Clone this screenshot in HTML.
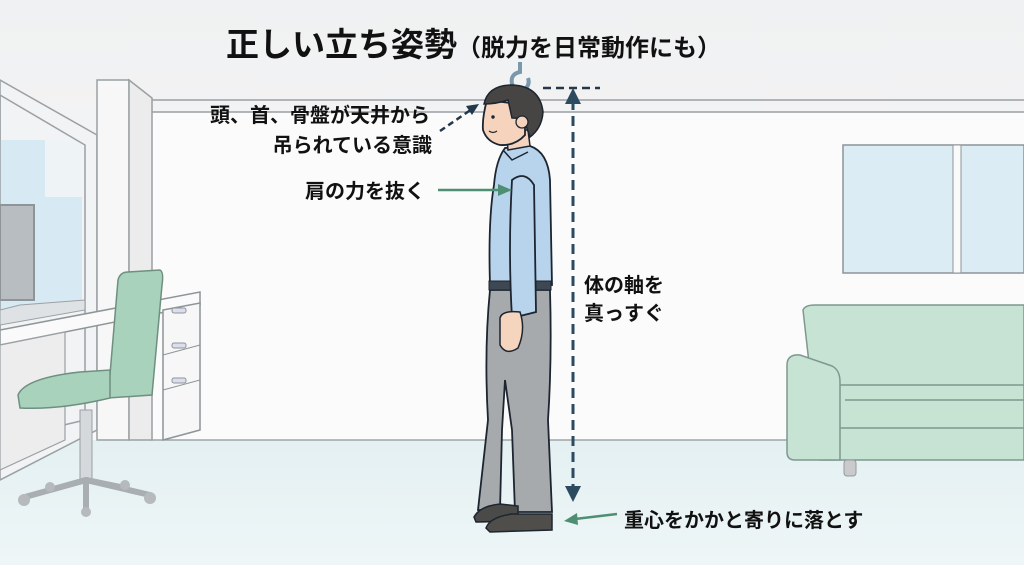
<!DOCTYPE html>
<html><head><meta charset="utf-8"><style>
html,body{margin:0;padding:0;background:#f4f5f6}
svg{display:block}
text{font-family:"Liberation Sans","Noto Sans CJK JP",sans-serif;fill:#111;font-weight:bold}
</style></head><body>
<svg width="1024" height="565" viewBox="0 0 1024 565" xmlns="http://www.w3.org/2000/svg">
<defs>
<linearGradient id="bg" x1="0" y1="0" x2="0" y2="1"><stop offset="0" stop-color="#f0f1f2"/><stop offset="1" stop-color="#fafafa"/></linearGradient>
<linearGradient id="fl" x1="0" y1="0" x2="0" y2="1"><stop offset="0" stop-color="#e4f0f2"/><stop offset="1" stop-color="#eef6f7"/></linearGradient>
</defs>
<rect width="1024" height="565" fill="url(#bg)"/>
<rect x="150" y="112" width="874" height="328" fill="#fbfbfb"/>
<line x1="150" y1="100" x2="1024" y2="100" stroke="#9aa0a3" stroke-width="1.5"/>
<line x1="150" y1="112" x2="1024" y2="112" stroke="#9aa0a3" stroke-width="1.5"/>
<rect x="0" y="440" width="1024" height="125" fill="url(#fl)"/>
<line x1="150" y1="440" x2="1024" y2="440" stroke="#8d9598" stroke-width="1.2"/>
<polygon points="0,80 97,135 97,430 0,480" fill="#f2f3f4" stroke="#9aa0a3" stroke-width="1.5"/>
<polygon points="0,140 82,140 82,300 0,320" fill="#d7e9f2"/>
<rect x="45" y="140" width="37" height="57" fill="#eef3f5"/>
<polygon points="0,95 85,145 85,420 0,440" fill="none" stroke="#9aa0a3" stroke-width="1.5"/>
<rect x="97" y="80" width="32" height="360" fill="#f7f7f7" stroke="#9aa0a3" stroke-width="1.5"/>
<polygon points="129,80 152,98 152,440 129,440" fill="#ececec" stroke="#9aa0a3" stroke-width="1.5"/>
<rect x="0" y="205" width="34" height="95" fill="#b7bdc1" stroke="#8d9598" stroke-width="2"/>
<polygon points="0,330 200,292 200,305 0,345" fill="#fafafa" stroke="#8d9598" stroke-width="1.5"/>
<polygon points="0,310 20,305 85,300 85,310 0,325" fill="#dfe2e4" stroke="#9aa0a3"/>
<polygon points="0,345 65,332 65,440 0,470" fill="#ededed" stroke="#9aa0a3" stroke-width="1.2"/>
<polygon points="163,310 200,303 200,430 163,440" fill="#f7f7f7" stroke="#8d9598" stroke-width="1.5"/>
<line x1="163" y1="355" x2="200" y2="345" stroke="#8d9598"/>
<line x1="163" y1="390" x2="200" y2="380" stroke="#8d9598"/>
<rect x="172" y="308" width="14" height="5" rx="2" fill="#dde" stroke="#8d9598"/>
<rect x="172" y="343" width="14" height="5" rx="2" fill="#dde" stroke="#8d9598"/>
<rect x="172" y="378" width="14" height="5" rx="2" fill="#dde" stroke="#8d9598"/>
<rect x="80" y="410" width="12" height="70" fill="#d6d9db" stroke="#9aa0a3"/>
<g stroke="#a8aeb1" stroke-width="6" stroke-linecap="round" fill="none">
<line x1="86" y1="480" x2="25" y2="497"/><line x1="86" y1="480" x2="150" y2="495"/><line x1="86" y1="480" x2="86" y2="512"/><line x1="86" y1="480" x2="50" y2="490"/><line x1="86" y1="480" x2="125" y2="488"/>
</g>
<g fill="#b6babd"><circle cx="24" cy="500" r="6"/><circle cx="150" cy="498" r="6"/><circle cx="86" cy="512" r="5"/><circle cx="50" cy="487" r="5"/><circle cx="125" cy="485" r="5"/></g>
<path d="M118,280 Q120,272 128,272 L160,270 Q164,272 162,285 L152,395 L108,398 Z" fill="#a8d2bb" stroke="#6f8f80" stroke-width="1.5"/>
<path d="M18,395 Q25,378 80,372 L110,370 L110,398 Q60,410 20,408 Z" fill="#a8d2bb" stroke="#6f8f80" stroke-width="1.5"/>
<rect x="843" y="145" width="181" height="128" fill="#dbecf5" stroke="#8d9598" stroke-width="1.5"/>
<rect x="953" y="145" width="8" height="128" fill="#fafafa" stroke="#8d9598"/>
<path d="M803,310 Q805,305 815,305 L1024,305 L1024,460 L820,460 Z" fill="#c6e3d3" stroke="#7f9890" stroke-width="1.5"/>
<line x1="840" y1="385" x2="1024" y2="385" stroke="#7f9890" stroke-width="1.5"/>
<line x1="845" y1="400" x2="1024" y2="400" stroke="#7f9890" stroke-width="1.5"/>
<line x1="840" y1="428" x2="1024" y2="428" stroke="#7f9890" stroke-width="1.5"/>
<path d="M787,365 Q787,354 800,355 L832,366 Q840,370 840,382 L840,460 L795,460 Q787,460 787,452 Z" fill="#c6e3d3" stroke="#7f9890" stroke-width="1.5"/>
<rect x="844" y="460" width="12" height="16" rx="3" fill="#c8cacb" stroke="#999"/>
<text x="226" y="56" font-size="33">正しい立ち姿勢<tspan font-size="24">（脱力を日常動作にも）</tspan></text>
<path d="M520,62 L520,72 Q510,74 512,84 Q516,92 526,88 Q530,84 528,78" fill="none" stroke="#7a98aa" stroke-width="4"/>
<path d="M490,290 L550,290 Q552,360 548,420 L552,512 L515,512 L512,430 L505,380 L502,430 L500,510 L478,510 L488,420 Q484,350 490,290 Z" fill="#a7aaad" stroke="#1c2530" stroke-width="1.8"/>
<path d="M474,517 Q480,506 500,504 L518,506 L518,518 Q500,522 476,522 Z" fill="#4a4a48" stroke="#1c2530" stroke-width="1.5"/>
<path d="M486,528 Q490,517 512,514 L552,514 L552,530 L490,532 Z" fill="#504e4b" stroke="#1c2530" stroke-width="1.5"/>
<path d="M505,148 L530,146 Q548,152 550,180 L552,285 L490,285 Q488,220 494,185 Q496,160 505,148 Z" fill="#b8d4ec" stroke="#1c2530" stroke-width="1.8"/>
<rect x="489" y="281" width="62" height="9" fill="#3d4852" stroke="#1c2530"/>
<path d="M503,150 L512,160 L528,152" fill="none" stroke="#1c2530" stroke-width="1.5"/>
<path d="M512,180 Q525,170 534,185 L536,312 L512,318 Q508,250 512,180 Z" fill="#b8d4ec" stroke="#1c2530" stroke-width="1.8"/>
<path d="M500,318 Q502,310 520,312 Q526,330 518,348 Q506,356 500,345 Z" fill="#f6d5be" stroke="#1c2530" stroke-width="1.5"/>
<path d="M506,130 L508,150 L530,146 L528,130 Z" fill="#f6d3bd" stroke="#1c2530" stroke-width="1.5"/>
<path d="M487,100 Q482,118 483,130 Q487,142 500,145 Q515,146 525,135 L525,105 Z" fill="#f6d3bd" stroke="#1c2530" stroke-width="1.8"/>
<path d="M484,104 Q488,85 512,85 Q540,86 543,112 Q542,128 530,137 L524,120 Q520,118 512,118 L508,100 Q496,104 484,104 Z" fill="#474544" stroke="#1c2530" stroke-width="1.5"/>
<circle cx="522" cy="122" r="6" fill="#f6d3bd" stroke="#1c2530" stroke-width="1.3"/>
<circle cx="493" cy="117" r="1.7" fill="#1c2530"/>
<path d="M489,131 Q493,134 497,131" fill="none" stroke="#1c2530" stroke-width="1.2"/>
<line x1="543" y1="88" x2="600" y2="88" stroke="#23384a" stroke-width="2.5" stroke-dasharray="8,5"/>
<line x1="573" y1="100" x2="573" y2="488" stroke="#2c4b60" stroke-width="3" stroke-dasharray="10,6"/>
<polygon points="573,88 565,104 581,104" fill="#2c4b60"/>
<polygon points="573,502 565,486 581,486" fill="#2c4b60"/>
<text x="430" y="122" font-size="20" text-anchor="end">頭、首、骨盤が天井から</text>
<text x="432" y="152" font-size="20" text-anchor="end">吊られている意識</text>
<line x1="440" y1="131" x2="472" y2="109" stroke="#23384a" stroke-width="2.5" stroke-dasharray="6,4"/>
<polygon points="479,104 466,106 472,115" fill="#23384a"/>
<text x="305" y="198" font-size="20">肩の力を抜く</text>
<line x1="438" y1="190" x2="500" y2="190" stroke="#4e8f74" stroke-width="2.5"/>
<polygon points="512,190 498,184 498,196" fill="#4e8f74"/>
<text x="584" y="292" font-size="20">体の軸を</text>
<text x="584" y="320" font-size="20">真っすぐ</text>
<text x="624" y="527" font-size="20">重心をかかと寄りに落とす</text>
<line x1="617" y1="514" x2="575" y2="519" stroke="#4e8f74" stroke-width="2.5"/>
<polygon points="564,521 577,513 578,525" fill="#4e8f74"/>
</svg>
</body></html>
